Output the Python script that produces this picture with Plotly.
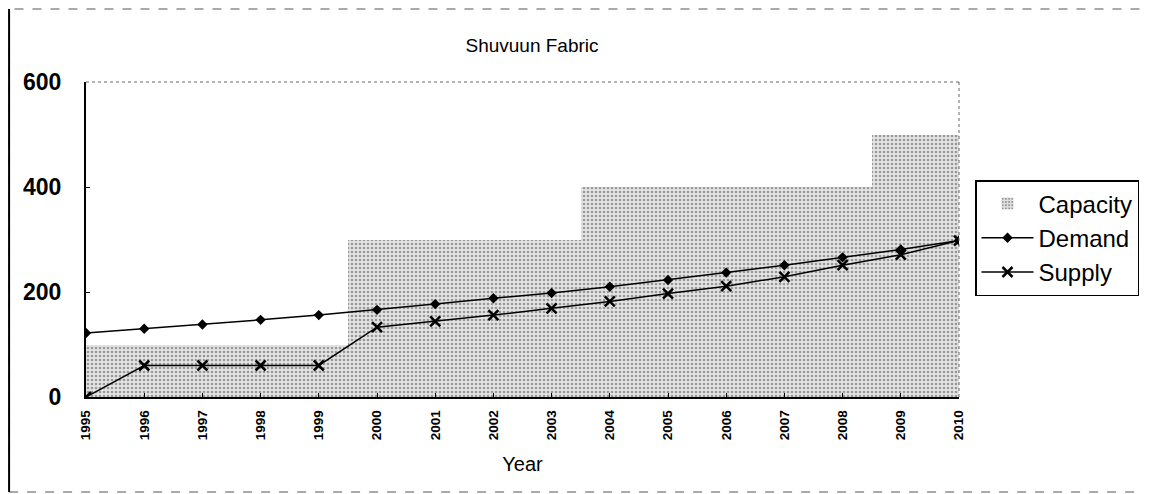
import plotly.graph_objects as go

years = list(range(1995, 2011))
capacity = [100, 100, 100, 100, 100, 300, 300, 300, 300, 400, 400, 400, 400, 400, 500, 500]
demand = [122, 130, 138, 147, 156, 166, 177, 188, 198, 210, 223, 237, 251, 266, 281, 298]
supply = [0, 60, 60, 60, 60, 133, 144, 156, 169, 182, 197, 211, 229, 251, 271, 298]
y_ticks = [0, 200, 400, 600]

FONT = "Arial, Liberation Sans, sans-serif"

fig = go.Figure()
fig.add_trace(go.Bar(
    x=years, y=capacity, name="Capacity", width=1.0, legendgroup="c",
    marker=dict(color="#e0e0e0", line=dict(width=0),
                pattern=dict(shape=".", fgcolor="#4a4a4a", bgcolor="#e4e4e4", size=4, solidity=0.35)),
))
fig.add_trace(go.Scatter(
    x=years, y=demand, name="Demand", mode="lines+markers", legendgroup="d",
    line=dict(color="black", width=1.5),
    marker=dict(symbol="diamond", size=8, color="black"),
))
fig.add_trace(go.Scatter(
    x=years, y=supply, name="Supply", mode="lines+markers", legendgroup="s",
    line=dict(color="black", width=1.5),
    marker=dict(symbol="x-thin", size=10, color="black", line=dict(width=2.5, color="black")),
))

# page offset of 8px (body margin)
W, H = 1142, 486
L, T = 78, 74
PR, PB = 952, 389  # plot right / bottom in figure px
pw, ph = PR - L, PB - T

def px(x):
    return (x - L) / pw

def py(y):
    return (PB - y) / ph

fig.update_layout(
    width=W, height=H,
    margin=dict(l=L, r=W - PR, t=T, b=H - PB),
    paper_bgcolor="white", plot_bgcolor="white",
    font=dict(family=FONT, color="black"),
    title=dict(text="Shuvuun Fabric", x=524 / W, xanchor="center", y=1 - 37 / H, yanchor="middle",
               font=dict(size=19)),
    bargap=0,
    showlegend=True,
    legend=dict(x=px(967), xanchor="left", y=py(230), yanchor="middle",
                bordercolor="black", borderwidth=1.5, bgcolor="white",
                font=dict(size=24), traceorder="grouped", tracegroupgap=0, itemwidth=52),
    xaxis=dict(
        range=[1995, 2010], tickmode="array", tickvals=years, ticktext=[str(y) for y in years],
        tickangle=-90, tickfont=dict(size=13.5, family=FONT, weight="bold"),
        ticks="inside", ticklen=4, tickcolor="black", ticklabelstandoff=6,
        showline=True, linecolor="black", linewidth=1.5, showgrid=False, zeroline=False,
        title=dict(text="Year", font=dict(size=20), standoff=18),
    ),
    yaxis=dict(
        range=[0, 600], tickmode="array", tickvals=y_ticks,
        tickfont=dict(size=23, family=FONT, weight="bold"),
        ticks="inside", ticklen=4, tickcolor="black", ticklabelstandoff=18,
        showline=True, linecolor="black", linewidth=2, showgrid=False, zeroline=False,
    ),
    shapes=[
        dict(type="line", xref="paper", yref="paper", x0=0, x1=1, y0=1, y1=1,
             line=dict(color="#666", width=1, dash="dot")),
        dict(type="line", xref="paper", yref="paper", x0=1, x1=1, y0=0, y1=1,
             line=dict(color="#666", width=1, dash="dot")),
        dict(type="rect", xref="paper", yref="paper",
             x0=px(1), x1=px(1145), y0=py(484), y1=py(1),
             line=dict(color="#555", width=1, dash="dash")),
        dict(type="line", xref="paper", yref="paper",
             x0=px(1), x1=px(1), y0=py(484), y1=py(1),
             line=dict(color="black", width=2)),
    ],
)
fig.write_html("out.html")
